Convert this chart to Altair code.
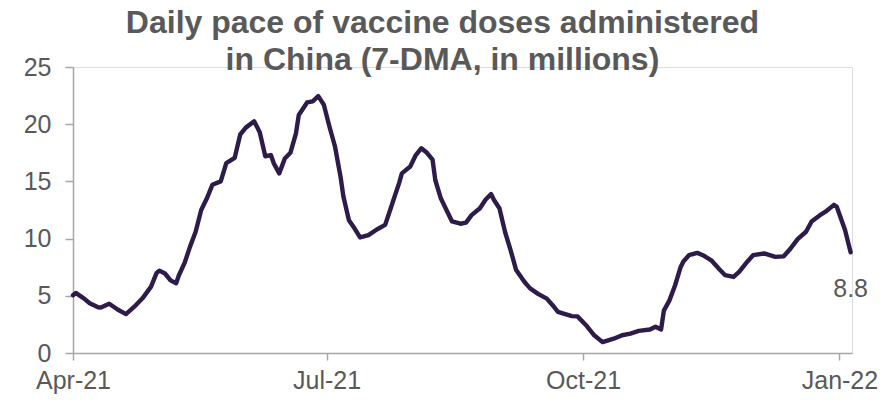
import altair as alt
import pandas as pd

# 7-day moving average of daily vaccine doses administered in China (millions)
dates = [
    "2021-04-01", "2021-04-02", "2021-04-05", "2021-04-07", "2021-04-10", "2021-04-11",
    "2021-04-14", "2021-04-17", "2021-04-20", "2021-04-23", "2021-04-26", "2021-04-29",
    "2021-05-01", "2021-05-02", "2021-05-04", "2021-05-06", "2021-05-08", "2021-05-09",
    "2021-05-11", "2021-05-13", "2021-05-15", "2021-05-17", "2021-05-19", "2021-05-21",
    "2021-05-24", "2021-05-26", "2021-05-29", "2021-05-31", "2021-06-02", "2021-06-05",
    "2021-06-07", "2021-06-09", "2021-06-11", "2021-06-12", "2021-06-14", "2021-06-16",
    "2021-06-18", "2021-06-20", "2021-06-21", "2021-06-24", "2021-06-26", "2021-06-28",
    "2021-06-30", "2021-07-02", "2021-07-04", "2021-07-06", "2021-07-07", "2021-07-09",
    "2021-07-11", "2021-07-13", "2021-07-16", "2021-07-19", "2021-07-22", "2021-07-24",
    "2021-07-25", "2021-07-27", "2021-07-28", "2021-07-31", "2021-08-02", "2021-08-04",
    "2021-08-06", "2021-08-08", "2021-08-09", "2021-08-11", "2021-08-13", "2021-08-15",
    "2021-08-18", "2021-08-20", "2021-08-22", "2021-08-25", "2021-08-27", "2021-08-29",
    "2021-08-30", "2021-09-01", "2021-09-03", "2021-09-05", "2021-09-07", "2021-09-10",
    "2021-09-12", "2021-09-15", "2021-09-18", "2021-09-20", "2021-09-22", "2021-09-24",
    "2021-09-27", "2021-09-29", "2021-10-02", "2021-10-05", "2021-10-08", "2021-10-12",
    "2021-10-15", "2021-10-18", "2021-10-21", "2021-10-25", "2021-10-27", "2021-10-29",
    "2021-10-30", "2021-11-01", "2021-11-03", "2021-11-05", "2021-11-06", "2021-11-08",
    "2021-11-11", "2021-11-13", "2021-11-16", "2021-11-19", "2021-11-21", "2021-11-24",
    "2021-11-26", "2021-11-29", "2021-12-01", "2021-12-05", "2021-12-09", "2021-12-12",
    "2021-12-14", "2021-12-17", "2021-12-20", "2021-12-22", "2021-12-25", "2021-12-27",
    "2021-12-30", "2021-12-31", "2022-01-03", "2022-01-05",
]
doses_mn = [
    5.05, 5.25, 4.75, 4.35, 4.0, 3.98,
    4.3, 3.8, 3.4, 4.05, 4.8, 5.8,
    7.0, 7.2, 6.95, 6.35, 6.1, 6.8,
    7.85, 9.3, 10.6, 12.5, 13.5, 14.7,
    15.0, 16.6, 17.05, 19.1, 19.7, 20.25,
    19.3, 17.2, 17.3, 16.6, 15.7, 17.0,
    17.5, 19.2, 20.8, 21.9, 22.0, 22.45,
    21.7, 19.8, 18.05, 15.4, 13.7, 11.6,
    10.9, 10.1, 10.3, 10.8, 11.2, 12.65,
    13.4, 14.85, 15.7, 16.3, 17.3, 17.9,
    17.5, 16.9, 15.1, 13.5, 12.5, 11.5,
    11.3, 11.4, 12.05, 12.65, 13.4, 13.9,
    13.4, 12.65, 10.6, 9.0, 7.25, 6.2,
    5.65, 5.15, 4.75, 4.2, 3.6, 3.45,
    3.22, 3.2, 2.45, 1.55, 0.95, 1.25,
    1.55, 1.7, 1.93, 2.05, 2.3, 2.05,
    3.7, 4.6, 5.9, 7.5, 8.0, 8.55,
    8.75, 8.55, 8.1, 7.3, 6.8, 6.65,
    7.1, 8.0, 8.55, 8.7, 8.4, 8.45,
    9.0, 9.95, 10.6, 11.5, 12.05, 12.35,
    12.95, 12.8, 10.75, 8.8,
]

y_ticks = [0, 5, 10, 15, 20, 25]
x_ticks = [(2021, 4), (2021, 7), (2021, 10), (2022, 1)]

df = pd.DataFrame({"date": dates, "doses": doses_mn})
last = df.tail(1)

FONT = "Liberation Sans"
GREY = "#595959"
AXIS_GREY = "#A6A6A6"
PURPLE = "#2D1B4A"

x_scale = alt.Scale(
    type="utc",
    domain=[
        alt.DateTime(year=2021, month=4, date=1, utc=True),
        alt.DateTime(year=2022, month=1, date=5, hours=12, utc=True),
    ],
)
y_scale = alt.Scale(domain=[0, 25], nice=False, zero=True)

x_axis = alt.Axis(
    values=[alt.DateTime(year=y, month=m, date=1, utc=True) for y, m in x_ticks],
    labelExpr="utcFormat(datum.value, '%b-%y')",
    labelFlush=False,
    labelOverlap=False,
    grid=False,
    title=None,
    tickSize=7,
    labelPadding=8,
    labelFontSize=25,
    labelFont=FONT,
    labelColor=GREY,
    domainColor=AXIS_GREY,
    tickColor=AXIS_GREY,
    domainWidth=1.5,
    tickWidth=1.5,
)
y_axis = alt.Axis(
    values=y_ticks,
    grid=False,
    title=None,
    tickSize=8,
    labelPadding=14,
    labelFontSize=25,
    labelFont=FONT,
    labelColor=GREY,
    domainColor=AXIS_GREY,
    tickColor=AXIS_GREY,
    domainWidth=1.5,
    tickWidth=1.5,
)

base = alt.Chart(df)

line = base.mark_line(
    color=PURPLE, strokeWidth=4.4, strokeCap="round", strokeJoin="round"
).encode(
    x=alt.X("date:T", scale=x_scale, axis=x_axis),
    y=alt.Y("doses:Q", scale=y_scale, axis=y_axis),
)

end_label = alt.Chart(last).mark_text(
    align="center", baseline="alphabetic", dy=45, fontSize=25, font=FONT, color=GREY
).encode(
    x=alt.X("date:T", scale=x_scale),
    y=alt.Y("doses:Q", scale=y_scale),
    text=alt.Text("doses:Q", format=".1f"),
)

chart = (
    alt.layer(line, end_label)
    .properties(
        width=779,
        height=286,
        title=alt.TitleParams(
            text=["Daily pace of vaccine doses administered", "in China (7-DMA, in millions)"],
            font=FONT,
            fontSize=32,
            fontWeight="bold",
            color=GREY,
            anchor="middle",
            frame="bounds",
            lineHeight=37,
            offset=-22,
            dx=-8,
        ),
        autosize=alt.AutoSizeParams(type="none"),
        padding={"left": 73, "top": 67, "right": 31, "bottom": 47},
    )
    .configure_view(stroke=None)
    .configure(background="white")
)

chart.save("out.html", embed_options={"renderer": "svg", "actions": False})
